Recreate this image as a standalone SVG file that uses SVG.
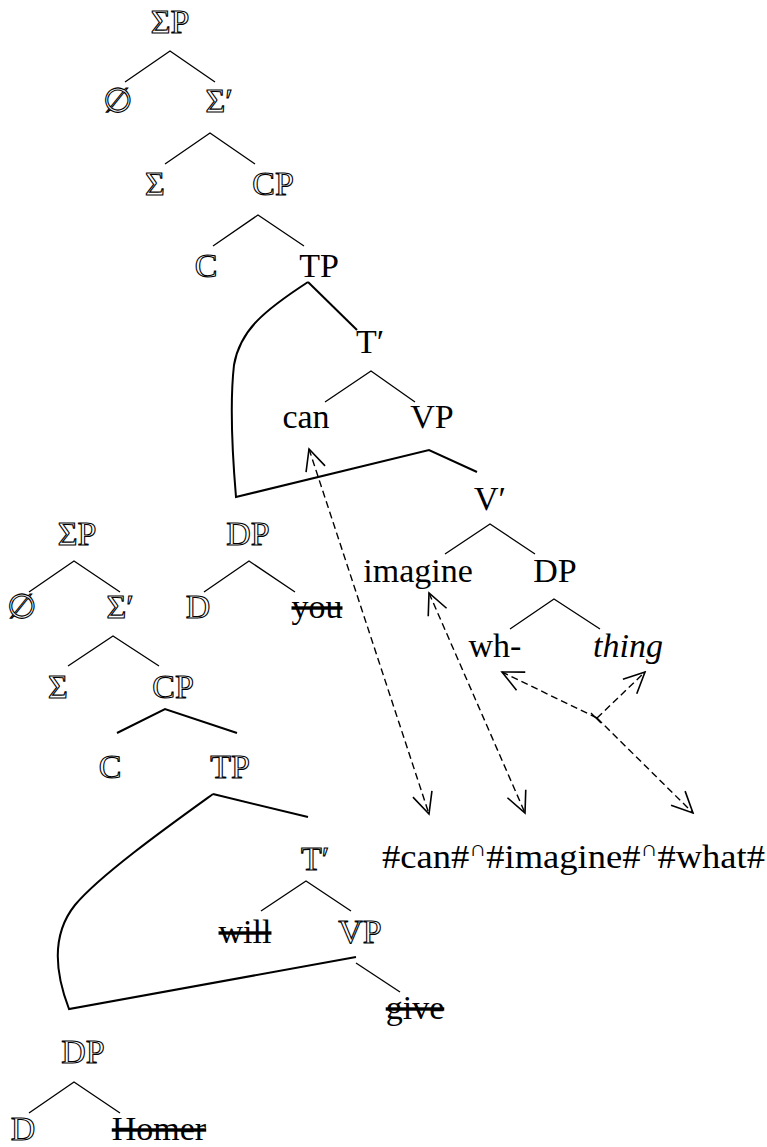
<svg xmlns="http://www.w3.org/2000/svg" width="767" height="1147" viewBox="0 0 767 1147" font-family="'Liberation Serif', 'DejaVu Serif', serif">
<defs>
<style>
text{font-family:'Liberation Serif','DejaVu Serif',serif;font-size:34px;text-anchor:middle;fill:#000}
.o{fill:#fff;stroke:#000;stroke-width:1.1}
.s{text-decoration:line-through}
.i{font-style:italic}
.t{fill:none;stroke:#000;stroke-width:1.3}
.k{fill:none;stroke:#000;stroke-width:2}
.d{fill:none;stroke:#000;stroke-width:1.4;stroke-dasharray:7,4;marker-end:url(#ah);marker-start:url(#ah)}
.d1{fill:none;stroke:#000;stroke-width:1.4;stroke-dasharray:7,4;marker-end:url(#ah)}
</style>
<marker id="ah" viewBox="-24 -12 26 24" markerWidth="26" markerHeight="24" refX="0" refY="0" orient="auto-start-reverse" markerUnits="userSpaceOnUse">
<path d="M-21,-10 L0,0 L-21,10" fill="none" stroke="#000" stroke-width="1.6"/>
</marker>
</defs>

<g id="connectors">
<path class="t" d="M125,82 L170,51 L215,82"/>
<path class="t" d="M165,164 L210,133 L255,164"/>
<path class="t" d="M213,246 L258,215 L304,246"/>
<path class="k" d="M308,282 L357,330"/>
<path class="k" d="M308,282 C265,310 240,330 234,365 C230,400 232,450 236,497 L429,450 L477,472"/>
<path class="t" d="M325,402 L371,371 L415,402"/>
<path class="t" d="M445,554 L490,524 L535,554"/>
<path class="t" d="M510,629 L554,599 L600,629"/>
<path class="t" d="M29,592 L74,561 L120,592"/>
<path class="t" d="M204,592 L249,561 L295,592"/>
<path class="t" d="M68,666 L113,636 L159,666"/>
<path class="k" d="M117,733 L165,709 L237,733"/>
<path class="k" d="M213,794 L308,817"/>
<path class="k" d="M213,794 C170,825 100,875 75,905 C55,930 52,965 69,1009 L356,957"/>
<path class="t" d="M356,963 L400,992"/>
<path class="t" d="M261,911 L306,881 L351,911"/>
<path class="t" d="M29,1113 L74,1082 L120,1113"/>
<path class="d" d="M309,449 L429,814"/>
<path class="d" d="M429,593 L525,813"/>
<path class="d1" d="M597,718 L502,672"/>
<path class="d1" d="M597,718 L645,672"/>
<path class="d1" d="M597,718 L693,813"/>
<path class="t" d="M591,713 L601,723"/>
</g>

<g id="n-SigmaP1"><text class="o" x="170" y="33">ΣP</text></g>
<g id="n-empty1"><text class="o" x="118" y="112">∅</text></g>
<g id="n-SigmaBar1"><text class="o" x="219" y="112">Σ′</text></g>
<g id="n-Sigma1"><text class="o" x="155" y="195">Σ</text></g>
<g id="n-CP1"><text class="o" x="273" y="195">CP</text></g>
<g id="n-C1"><text class="o" x="206" y="277">C</text></g>
<g id="n-TP1"><text x="319" y="277">TP</text></g>
<g id="n-TBar1"><text x="370" y="353">T′</text></g>
<g id="n-can"><text x="306" y="428">can</text></g>
<g id="n-VP1"><text x="432" y="428">VP</text></g>
<g id="n-VBar"><text x="490" y="510">V′</text></g>
<g id="n-imagine"><text x="418" y="582">imagine</text></g>
<g id="n-DP1"><text x="555" y="582">DP</text></g>
<g id="n-wh"><text x="495" y="657">wh-</text></g>
<g id="n-thing"><text class="i" x="628" y="657">thing</text></g>
<g id="n-string"><text x="382" y="868" style="text-anchor:start" textLength="383" lengthAdjust="spacingAndGlyphs">#can#<tspan font-size="22" dy="-12">∩</tspan><tspan dy="12">#imagine#</tspan><tspan font-size="22" dy="-12">∩</tspan><tspan dy="12">#what#</tspan></text></g>

<g id="n-SigmaP2"><text class="o" x="77" y="545">ΣP</text></g>
<g id="n-DP2"><text class="o" x="248" y="545">DP</text></g>
<g id="n-empty2"><text class="o" x="22" y="618">∅</text></g>
<g id="n-SigmaBar2"><text class="o" x="120" y="618">Σ′</text></g>
<g id="n-D2"><text class="o" x="198" y="618">D</text></g>
<g id="n-you"><text class="s" x="317" y="618">you</text></g>
<g id="n-Sigma2"><text class="o" x="58" y="698">Σ</text></g>
<g id="n-CP2"><text class="o" x="173" y="698">CP</text></g>
<g id="n-C2"><text class="o" x="110" y="778">C</text></g>
<g id="n-TP2"><text class="o" x="230" y="778">TP</text></g>
<g id="n-TBar2"><text class="o" x="315" y="870">T′</text></g>
<g id="n-will"><text class="s" x="245" y="943">will</text></g>
<g id="n-VP2"><text class="o" x="360" y="943">VP</text></g>
<g id="n-give"><text class="s" x="415" y="1019">give</text></g>
<g id="n-DP3"><text class="o" x="83" y="1063">DP</text></g>
<g id="n-D3"><text class="o" x="23" y="1140">D</text></g>
<g id="n-Homer"><text class="s" x="159" y="1140">Homer</text></g>
</svg>
